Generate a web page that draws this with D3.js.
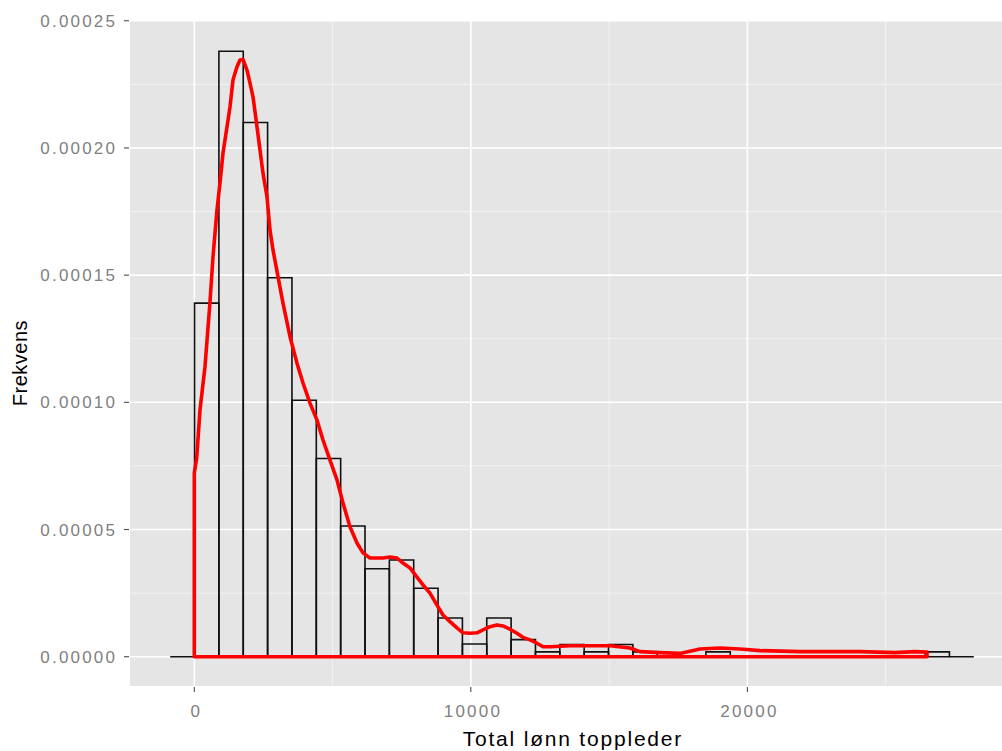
<!DOCTYPE html>
<html>
<head>
<meta charset="utf-8">
<script src="https://cdn.jsdelivr.net/npm/d3@7"></script>
<style>
  html, body { margin: 0; padding: 0; background: #ffffff; overflow: hidden; }
  svg { display: block; }
  text { font-family: "Liberation Sans", Arial, sans-serif; }
</style>
</head>
<body>
<script>
// ---- Data ----
const binStart = -871.6;          // left edge of first bin
const binWidth = 880.6;           // histogram bin width
const binDensity = [
  0, 0.000139, 0.000238, 0.000210, 0.000149, 0.0001008, 0.0000779, 0.0000514,
  0.0000346, 0.0000380, 0.0000269, 0.0000152, 0.0000050, 0.0000152, 0.0000067,
  0.0000019, 0.0000048, 0.0000019, 0.0000048, 0.0000019, 0, 0, 0.0000019,
  0, 0, 0, 0, 0, 0, 0, 0, 0.0000019, 0
];
const densX = [
  0, 0, 87, 206, 387, 568, 676, 821, 929, 1038, 1182, 1291, 1399, 1544, 1653, 1761,
  1906, 2014, 2123, 2267, 2376, 2484, 2629, 2737, 2846, 2990, 3207, 3461, 3714,
  3931, 4184, 4437, 4654, 4907, 5160, 5377, 5630, 5883, 6100, 6353, 6606, 6823,
  7076, 7330, 7547, 7800, 8053, 8270, 8523, 8776, 8993, 9246, 9499, 9716, 9969,
  10222, 10439, 10692, 10945, 11162, 11415, 11668, 11885, 12139, 12392, 12609,
  12862, 13585, 14309, 15032, 15755, 16117, 16840, 17564, 18287, 19010, 19733,
  20457, 21903, 24073, 25339, 26062, 26496, 26496
];
const densY = [
  0, 7.22e-5, 7.81e-5, 9.70e-5, 1.14e-4, 1.395e-4, 1.572e-4, 1.756e-4, 1.862e-4,
  1.98e-4, 2.082e-4, 2.161e-4, 2.267e-4, 2.319e-4, 2.346e-4, 2.348e-4, 2.306e-4,
  2.255e-4, 2.201e-4, 2.083e-4, 1.992e-4, 1.901e-4, 1.808e-4, 1.677e-4, 1.599e-4,
  1.516e-4, 1.39e-4, 1.258e-4, 1.154e-4, 1.076e-4, 9.97e-5, 9.30e-5, 8.52e-5,
  7.73e-5, 6.95e-5, 6.04e-5, 5.11e-5, 4.47e-5, 4.08e-5, 3.88e-5, 3.88e-5, 3.88e-5,
  3.92e-5, 3.88e-5, 3.68e-5, 3.49e-5, 3.13e-5, 2.82e-5, 2.50e-5, 2.03e-5, 1.64e-5,
  1.38e-5, 1.13e-5, 9.4e-6, 9.2e-6, 9.4e-6, 1.05e-5, 1.18e-5, 1.25e-5, 1.21e-5,
  1.08e-5, 9.2e-6, 7.6e-6, 6.6e-6, 5.3e-6, 3.9e-6, 3.9e-6, 4.3e-6, 4.3e-6, 4.3e-6,
  3.4e-6, 2.0e-6, 1.6e-6, 1.3e-6, 3.0e-6, 3.4e-6, 3.0e-6, 2.4e-6, 2.0e-6, 2.0e-6,
  1.6e-6, 2.0e-6, 1.8e-6, 0
];
const xTicks = [0, 10000, 20000];
const xTickLabels = ["0", "10000", "20000"];
const xMinor = [5000, 15000, 25000];
const yTicks = [0, 0.00005, 0.0001, 0.00015, 0.0002, 0.00025];
const yTickLabels = ["0.00000", "0.00005", "0.00010", "0.00015", "0.00020", "0.00025"];
const yMinor = [0.000025, 0.000075, 0.000125, 0.000175, 0.000225];
const xTitle = "Total lønn toppleder";
const yTitle = "Frekvens";

// ---- Layout ----
const W = 1002, H = 751;
const panel = { left: 130, right: 1014, top: 20, bottom: 686 };

const x = d3.scaleLinear().domain([-2325, 29642]).range([panel.left, panel.right]);
const y = d3.scaleLinear().domain([-0.00001152, 0.0002503]).range([panel.bottom, panel.top]);

const svg = d3.select("body").append("svg").attr("width", W).attr("height", H);

svg.append("defs").append("clipPath").attr("id", "clip")
  .append("rect").attr("x", panel.left).attr("y", panel.top)
  .attr("width", panel.right - panel.left).attr("height", panel.bottom - panel.top);

svg.append("rect")
  .attr("x", panel.left).attr("y", panel.top)
  .attr("width", panel.right - panel.left).attr("height", panel.bottom - panel.top)
  .attr("fill", "#e5e5e5");

const g = svg.append("g").attr("clip-path", "url(#clip)");

// minor grid
g.selectAll(".ymin").data(yMinor).enter().append("line")
  .attr("x1", panel.left).attr("x2", panel.right)
  .attr("y1", d => y(d)).attr("y2", d => y(d))
  .attr("stroke", "#f2f2f2").attr("stroke-width", 1);
g.selectAll(".xmin").data(xMinor).enter().append("line")
  .attr("y1", panel.top).attr("y2", panel.bottom)
  .attr("x1", d => x(d)).attr("x2", d => x(d))
  .attr("stroke", "#f2f2f2").attr("stroke-width", 1);
// major grid
g.selectAll(".ymaj").data(yTicks).enter().append("line")
  .attr("x1", panel.left).attr("x2", panel.right)
  .attr("y1", d => y(d)).attr("y2", d => y(d))
  .attr("stroke", "#ffffff").attr("stroke-width", 1.6);
g.selectAll(".xmaj").data(xTicks).enter().append("line")
  .attr("y1", panel.top).attr("y2", panel.bottom)
  .attr("x1", d => x(d)).attr("x2", d => x(d))
  .attr("stroke", "#ffffff").attr("stroke-width", 1.6);

// histogram (paths so that empty bins still draw as a flat line)
const bins = binDensity.map((d, i) => ({ x0: binStart + i * binWidth, x1: binStart + (i + 1) * binWidth, d }));
g.selectAll(".bin").data(bins).enter().append("path")
  .attr("d", b => {
    const xa = x(b.x0), xb = x(b.x1), y0 = y(0), yt = y(b.d);
    return `M${xa},${y0}L${xa},${yt}L${xb},${yt}L${xb},${y0}Z`;
  })
  .attr("fill", "none")
  .attr("stroke", "#111111")
  .attr("stroke-width", 1.6);

// density outline (closed polygon like geom_density)
const densPts = densX.map((v, i) => [v, densY[i]]);
const line = d3.line().x(p => x(p[0])).y(p => y(p[1])).curve(d3.curveLinear);
g.append("path")
  .attr("d", line(densPts) + "Z")
  .attr("fill", "none")
  .attr("stroke", "#ff0000")
  .attr("stroke-width", 3.6)
  .attr("stroke-linejoin", "round");

// axes ticks
const tickCol = "#4d4d4d";
svg.selectAll(".yt").data(yTicks).enter().append("line")
  .attr("x1", panel.left - 6).attr("x2", panel.left - 1)
  .attr("y1", d => y(d)).attr("y2", d => y(d))
  .attr("stroke", tickCol).attr("stroke-width", 1.1);
svg.selectAll(".xt").data(xTicks).enter().append("line")
  .attr("y1", panel.bottom + 1).attr("y2", panel.bottom + 6)
  .attr("x1", d => x(d)).attr("x2", d => x(d))
  .attr("stroke", tickCol).attr("stroke-width", 1.1);

// tick labels
const labCol = "#7f7f7f";
const ls = 2.2;
svg.selectAll(".yl").data(yTicks).enter().append("text")
  .attr("x", panel.left - 15 + ls)
  .attr("y", d => y(d) + 6)
  .attr("text-anchor", "end")
  .attr("font-size", 17)
  .attr("letter-spacing", ls + "px")
  .attr("fill", labCol)
  .text((d, i) => yTickLabels[i]);
svg.selectAll(".xl").data(xTicks).enter().append("text")
  .attr("x", d => x(d) + 1 + ls / 2)
  .attr("y", 717)
  .attr("text-anchor", "middle")
  .attr("font-size", 17)
  .attr("letter-spacing", ls + "px")
  .attr("fill", labCol)
  .text((d, i) => xTickLabels[i]);

// titles
svg.append("text")
  .attr("x", (panel.left + panel.right) / 2 + 0.9)
  .attr("y", 746)
  .attr("text-anchor", "middle")
  .attr("font-size", 21)
  .attr("letter-spacing", "1.8px")
  .attr("fill", "#000000")
  .text(xTitle);
svg.append("text")
  .attr("transform", `translate(27, ${(panel.top + panel.bottom) / 2 + 10}) rotate(-90)`)
  .attr("text-anchor", "middle")
  .attr("font-size", 20)
  .attr("letter-spacing", "0.5px")
  .attr("fill", "#000000")
  .text(yTitle);
</script>
</body>
</html>
